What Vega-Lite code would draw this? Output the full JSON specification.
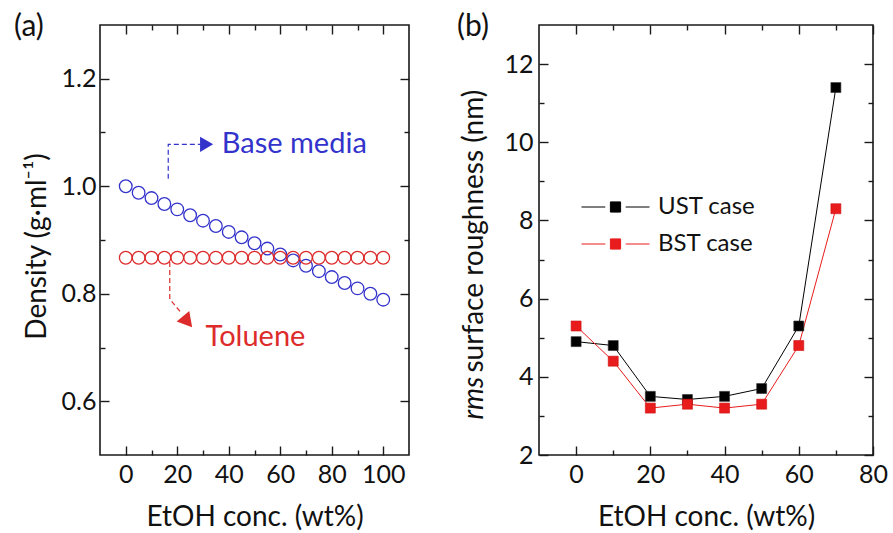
{
  "$schema": "https://vega.github.io/schema/vega-lite/v6.json",
  "padding": {"left": 13, "top": 11, "right": 0, "bottom": 0},
  "spacing": 45,
  "resolve": {"scale": {"color": "independent"}, "legend": {"color": "independent"}},
  "datasets": {
    "density": [
      {"etoh": 0, "density": 1.000, "series": "Base media"},
      {"etoh": 5, "density": 0.988, "series": "Base media"},
      {"etoh": 10, "density": 0.978, "series": "Base media"},
      {"etoh": 15, "density": 0.967, "series": "Base media"},
      {"etoh": 20, "density": 0.957, "series": "Base media"},
      {"etoh": 25, "density": 0.946, "series": "Base media"},
      {"etoh": 30, "density": 0.936, "series": "Base media"},
      {"etoh": 35, "density": 0.926, "series": "Base media"},
      {"etoh": 40, "density": 0.915, "series": "Base media"},
      {"etoh": 45, "density": 0.905, "series": "Base media"},
      {"etoh": 50, "density": 0.894, "series": "Base media"},
      {"etoh": 55, "density": 0.884, "series": "Base media"},
      {"etoh": 60, "density": 0.873, "series": "Base media"},
      {"etoh": 65, "density": 0.862, "series": "Base media"},
      {"etoh": 70, "density": 0.852, "series": "Base media"},
      {"etoh": 75, "density": 0.842, "series": "Base media"},
      {"etoh": 80, "density": 0.831, "series": "Base media"},
      {"etoh": 85, "density": 0.820, "series": "Base media"},
      {"etoh": 90, "density": 0.810, "series": "Base media"},
      {"etoh": 95, "density": 0.800, "series": "Base media"},
      {"etoh": 100, "density": 0.789, "series": "Base media"},
      {"etoh": 0, "density": 0.867, "series": "Toluene"},
      {"etoh": 5, "density": 0.867, "series": "Toluene"},
      {"etoh": 10, "density": 0.867, "series": "Toluene"},
      {"etoh": 15, "density": 0.867, "series": "Toluene"},
      {"etoh": 20, "density": 0.867, "series": "Toluene"},
      {"etoh": 25, "density": 0.867, "series": "Toluene"},
      {"etoh": 30, "density": 0.867, "series": "Toluene"},
      {"etoh": 35, "density": 0.867, "series": "Toluene"},
      {"etoh": 40, "density": 0.867, "series": "Toluene"},
      {"etoh": 45, "density": 0.867, "series": "Toluene"},
      {"etoh": 50, "density": 0.867, "series": "Toluene"},
      {"etoh": 55, "density": 0.867, "series": "Toluene"},
      {"etoh": 60, "density": 0.867, "series": "Toluene"},
      {"etoh": 65, "density": 0.867, "series": "Toluene"},
      {"etoh": 70, "density": 0.867, "series": "Toluene"},
      {"etoh": 75, "density": 0.867, "series": "Toluene"},
      {"etoh": 80, "density": 0.867, "series": "Toluene"},
      {"etoh": 85, "density": 0.867, "series": "Toluene"},
      {"etoh": 90, "density": 0.867, "series": "Toluene"},
      {"etoh": 95, "density": 0.867, "series": "Toluene"},
      {"etoh": 100, "density": 0.867, "series": "Toluene"}
    ],
    "arrows": [
      {"series": "Base media", "step": 1, "etoh": 16.5, "density": 1.014},
      {"series": "Base media", "step": 2, "etoh": 16.5, "density": 1.078},
      {"series": "Base media", "step": 3, "etoh": 29.0, "density": 1.078},
      {"series": "Toluene", "step": 1, "etoh": 17.1, "density": 0.859},
      {"series": "Toluene", "step": 2, "etoh": 17.1, "density": 0.790},
      {"series": "Toluene", "step": 3, "etoh": 21.8, "density": 0.763}
    ],
    "heads": [
      {"series": "Base media", "etoh": 31.4, "density": 1.078},
      {"series": "Toluene", "etoh": 24.0, "density": 0.748}
    ],
    "labels": [
      {"series": "Base media", "label": "Base media", "etoh": 37.3, "density": 1.078},
      {"series": "Toluene", "label": "Toluene", "etoh": 31.0, "density": 0.72}
    ],
    "rough": [
      {"etoh": 0, "rms": 4.9, "case": "UST case"},
      {"etoh": 10, "rms": 4.8, "case": "UST case"},
      {"etoh": 20, "rms": 3.5, "case": "UST case"},
      {"etoh": 30, "rms": 3.42, "case": "UST case"},
      {"etoh": 40, "rms": 3.5, "case": "UST case"},
      {"etoh": 50, "rms": 3.7, "case": "UST case"},
      {"etoh": 60, "rms": 5.3, "case": "UST case"},
      {"etoh": 70, "rms": 11.4, "case": "UST case"},
      {"etoh": 0, "rms": 5.3, "case": "BST case"},
      {"etoh": 10, "rms": 4.4, "case": "BST case"},
      {"etoh": 20, "rms": 3.2, "case": "BST case"},
      {"etoh": 30, "rms": 3.3, "case": "BST case"},
      {"etoh": 40, "rms": 3.2, "case": "BST case"},
      {"etoh": 50, "rms": 3.3, "case": "BST case"},
      {"etoh": 60, "rms": 4.8, "case": "BST case"},
      {"etoh": 70, "rms": 8.3, "case": "BST case"}
    ]
  },
  "hconcat": [
    {
      "width": 309,
      "height": 430,
      "title": {"text": "(a)", "anchor": "start", "frame": "bounds", "dx": -9, "dy": 31, "offset": -11, "baseline": "alphabetic", "fontSize": 30, "fontWeight": "normal", "font": "Lato", "color": "#111"},
      "resolve": {"axis": {"x": "independent", "y": "independent"}},
      "layer": [
        {
          "data": {"name": "density"},
          "mark": {"type": "point", "shape": "circle", "filled": false, "size": 160, "strokeWidth": 1.3, "opacity": 1},
          "encoding": {
            "x": {"field": "etoh", "type": "quantitative",
              "scale": {"domain": [-10, 110], "nice": false, "zero": false},
              "axis": {"orient": "bottom", "values": [0, 10, 20, 30, 40, 50, 60, 70, 80, 90, 100],
                "tickSize": {"condition": {"test": "datum.value % 20 === 0", "value": -9}, "value": -5},
                "labelExpr": "datum.value % 20 === 0 ? datum.label : ''", "labelFlush": false,
                "labelPadding": 16, "title": "EtOH conc. (wt%)", "titleY": 62, "titleBaseline": "middle"}},
            "y": {"field": "density", "type": "quantitative",
              "scale": {"domain": [0.5, 1.3], "nice": false, "zero": false},
              "axis": {"orient": "left", "values": [0.6, 0.7, 0.8, 0.9, 1.0, 1.1, 1.2],
                "tickSize": {"condition": {"test": "round(datum.value*10) % 2 === 0", "value": -9}, "value": -5},
                "labelExpr": "round(datum.value*10) % 2 === 0 ? format(datum.value, '.1f') : ''", "labelFlush": false,
                "labelPadding": 13, "title": "Density (g·ml⁻¹)", "titleX": -63, "titleY": 221, "titleBaseline": "middle", "titleAngle": 270}},
            "color": {"field": "series", "type": "nominal",
              "scale": {"domain": ["Base media", "Toluene"], "range": ["#3333cc", "#dd2b2b"]}, "legend": null}
          }
        },
        {
          "data": {"name": "arrows"},
          "mark": {"type": "line", "strokeDash": [5, 3], "strokeWidth": 1.2},
          "encoding": {
            "x": {"field": "etoh", "type": "quantitative", "scale": {"domain": [-10, 110], "nice": false, "zero": false},
              "axis": {"orient": "top", "values": [0, 10, 20, 30, 40, 50, 60, 70, 80, 90, 100],
                "tickSize": {"condition": {"test": "datum.value % 20 === 0", "value": -9}, "value": -5},
                "labels": false, "title": null}},
            "y": {"field": "density", "type": "quantitative", "scale": {"domain": [0.5, 1.3], "nice": false, "zero": false},
              "axis": {"orient": "right", "values": [0.6, 0.7, 0.8, 0.9, 1.0, 1.1, 1.2],
                "tickSize": {"condition": {"test": "round(datum.value*10) % 2 === 0", "value": -9}, "value": -5},
                "labels": false, "title": null}},
            "color": {"field": "series", "type": "nominal", "legend": null},
            "detail": {"field": "series"},
            "order": {"field": "step", "type": "quantitative"}
          }
        },
        {
          "data": {"name": "heads"},
          "transform": [{"filter": "datum.series === 'Base media'"}],
          "mark": {"type": "point", "shape": "triangle-right", "filled": true, "size": 230, "opacity": 1},
          "encoding": {
            "x": {"field": "etoh", "type": "quantitative", "scale": {"domain": [-10, 110], "nice": false, "zero": false}, "axis": null},
            "y": {"field": "density", "type": "quantitative", "scale": {"domain": [0.5, 1.3], "nice": false, "zero": false}, "axis": null},
            "color": {"field": "series", "type": "nominal", "legend": null}
          }
        },
        {
          "data": {"name": "heads"},
          "transform": [{"filter": "datum.series === 'Toluene'"}],
          "mark": {"type": "point", "shape": "triangle-right", "filled": true, "size": 270, "opacity": 1, "angle": 50},
          "encoding": {
            "x": {"field": "etoh", "type": "quantitative", "scale": {"domain": [-10, 110], "nice": false, "zero": false}, "axis": null},
            "y": {"field": "density", "type": "quantitative", "scale": {"domain": [0.5, 1.3], "nice": false, "zero": false}, "axis": null},
            "color": {"field": "series", "type": "nominal", "legend": null}
          }
        },
        {
          "data": {"name": "labels"},
          "mark": {"type": "text", "align": "left", "baseline": "middle", "fontSize": 29, "font": "Lato"},
          "encoding": {
            "x": {"field": "etoh", "type": "quantitative", "scale": {"domain": [-10, 110], "nice": false, "zero": false}, "axis": null},
            "y": {"field": "density", "type": "quantitative", "scale": {"domain": [0.5, 1.3], "nice": false, "zero": false}, "axis": null},
            "text": {"field": "label"},
            "color": {"field": "series", "type": "nominal", "legend": null}
          }
        }
      ]
    },
    {
      "width": 334,
      "height": 430,
      "title": {"text": "(b)", "anchor": "start", "frame": "bounds", "dx": -3, "dy": 31, "offset": -11, "baseline": "alphabetic", "fontSize": 30, "fontWeight": "normal", "font": "Lato", "color": "#111"},
      "resolve": {"axis": {"x": "independent", "y": "independent"}},
      "layer": [
        {
          "data": {"name": "rough"},
          "mark": {"type": "line", "strokeWidth": 1},
          "encoding": {
            "x": {"field": "etoh", "type": "quantitative",
              "scale": {"domain": [-10, 80], "nice": false, "zero": false},
              "axis": {"orient": "bottom", "values": [0, 10, 20, 30, 40, 50, 60, 70, 80],
                "tickSize": {"condition": {"test": "datum.value % 20 === 0", "value": -9}, "value": -5},
                "labelExpr": "datum.value % 20 === 0 ? datum.label : ''", "labelFlush": false,
                "labelPadding": 16, "title": "EtOH conc. (wt%)", "titleY": 62, "titleBaseline": "middle"}},
            "y": {"field": "rms", "type": "quantitative",
              "scale": {"domain": [2, 13], "nice": false, "zero": false},
              "axis": {"orient": "left", "values": [2, 3, 4, 5, 6, 7, 8, 9, 10, 11, 12],
                "tickSize": {"condition": {"test": "datum.value % 2 === 0", "value": -9}, "value": -5},
                "labelExpr": "datum.value % 2 === 0 ? datum.label : ''", "labelFlush": false,
                "labelPadding": 15, "title": "surface roughness (nm)", "titleX": -65, "titleY": 347, "titleAlign": "left", "titleBaseline": "middle", "titleAngle": 270}},
            "color": {"field": "case", "type": "nominal",
              "scale": {"domain": ["UST case", "BST case"], "range": ["#000000", "#e81c1c"]},
              "legend": {"orient": "none", "legendX": 42, "legendY": 169, "title": null, "padding": 0,
                "symbolType": "M-1,0H-0.3M0.3,0H1M-0.15,-0.15H0.15V0.15H-0.15Z", "symbolSize": 4624, "symbolStrokeWidth": 1,
                "labelFont": "Lato", "labelFontSize": 24, "labelColor": "#111", "labelOffset": 8, "rowPadding": 11, "clipHeight": 26,
                "encode": {"symbols": {"update": {
                  "fill": {"signal": "datum.value === 'UST case' ? '#000000' : '#e81c1c'"},
                  "stroke": {"signal": "datum.value === 'UST case' ? '#000000' : '#e81c1c'"},
                  "opacity": {"value": 1}}}}}}
          }
        },
        {
          "data": {"name": "rough"},
          "transform": [{"filter": "datum.case === 'UST case'"}],
          "mark": {"type": "point", "shape": "square", "filled": true, "size": 100, "opacity": 1, "strokeWidth": 0.6, "stroke": "#333"},
          "encoding": {
            "x": {"field": "etoh", "type": "quantitative", "scale": {"domain": [-10, 80], "nice": false, "zero": false},
              "axis": {"orient": "top", "values": [0, 10, 20, 30, 40, 50, 60, 70, 80],
                "tickSize": {"condition": {"test": "datum.value % 20 === 0", "value": -9}, "value": -5},
                "labels": false, "title": null}},
            "y": {"field": "rms", "type": "quantitative", "scale": {"domain": [2, 13], "nice": false, "zero": false},
              "axis": {"orient": "right", "values": [2, 3, 4, 5, 6, 7, 8, 9, 10, 11, 12],
                "tickSize": {"condition": {"test": "datum.value % 2 === 0", "value": -9}, "value": -5},
                "labels": false, "title": null}},
            "color": {"field": "case", "type": "nominal", "legend": null}
          }
        },
        {
          "data": {"name": "rough"},
          "transform": [{"filter": "datum.case === 'BST case'"}],
          "mark": {"type": "point", "shape": "square", "filled": true, "size": 100, "opacity": 1, "strokeWidth": 0.6, "stroke": "#d01010"},
          "encoding": {
            "x": {"field": "etoh", "type": "quantitative", "scale": {"domain": [-10, 80], "nice": false, "zero": false}, "axis": null},
            "y": {"field": "rms", "type": "quantitative", "scale": {"domain": [2, 13], "nice": false, "zero": false},
              "axis": {"orient": "left", "labels": false, "ticks": false, "domain": false,
                "title": "rms", "titleFontStyle": "italic", "titleX": -65, "titleY": 394, "titleAlign": "left", "titleBaseline": "middle", "titleAngle": 270}},
            "color": {"field": "case", "type": "nominal", "legend": null}
          }
        }
      ]
    }
  ],
  "config": {
    "font": "Lato",
    "view": {"stroke": "#1a1a1a", "strokeWidth": 1.6},
    "axis": {"grid": false, "domain": false, "tickColor": "#1a1a1a", "tickWidth": 1.4,
      "labelFont": "Lato", "labelFontSize": 25, "labelColor": "#111",
      "titleFont": "Lato", "titleFontSize": 28, "titleFontWeight": "normal", "titleColor": "#111"}
  }
}
